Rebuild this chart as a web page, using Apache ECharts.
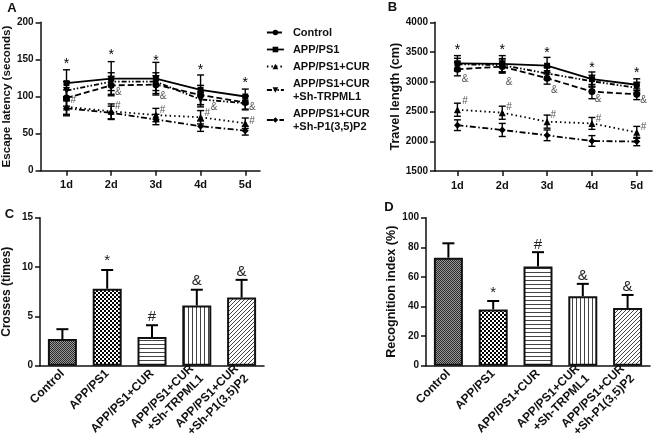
<!DOCTYPE html>
<html><head><meta charset="utf-8">
<script src="https://cdn.jsdelivr.net/npm/echarts@6/dist/echarts.min.js"></script>
<style>html,body{margin:0;padding:0;background:#fff}#c{width:661px;height:444px}</style>
</head><body><div id="c"></div>
<script>
// ---------- data ----------
const days = ['1d', '2d', '3d', '4d', '5d'];
const dayPos = [1, 2, 3, 4, 5];
const groupNames = ['Control', 'APP/PS1', 'APP/PS1+CUR', 'APP/PS1+CUR\n+Sh-TRPML1', 'APP/PS1+CUR\n+Sh-P1(3,5)P2'];

// Panel A: escape latency (seconds)
const latControl = [98, 115, 116, 102, 92];
const latAPP = [118, 124, 124, 109, 100];
const latCUR = [86, 80, 75, 72, 64];
const latTRPML1 = [108, 120, 120, 96, 91];
const latP1 = [84, 78, 69, 60, 54];
const latControlErr = [11, 12, 12, 13, 9];
const latAPPErr = [18, 23, 22, 20, 10];
const latCURErr = [10, 10, 9, 9, 7];
const latTRPML1Err = [12, 12, 12, 10, 9];
const latP1Err = [10, 9, 7, 7, 6];
const aStarY = [143, 156, 148, 136, 118];
const aHashX = [1.15, 2.15, 3.15, 4.15, 5.15];
const aHashY = [95, 87, 82, 78, 66];
const aAmpX = [2.16, 3.16, 4.3, 5.16];
const aAmpY = [106, 100, 86, 86];

// Panel B: travel length (cm)
const lenControl = [3210, 3255, 3060, 2835, 2790];
const lenAPP = [3310, 3300, 3270, 3045, 2950];
const lenCUR = [2530, 2480, 2330, 2300, 2150];
const lenTRPML1 = [3295, 3280, 3140, 3010, 2900];
const lenP1 = [2270, 2190, 2100, 2005, 1995];
const lenControlErr = [110, 110, 100, 120, 90];
const lenAPPErr = [130, 140, 140, 120, 100];
const lenCURErr = [110, 110, 110, 100, 100];
const lenTRPML1Err = [100, 110, 100, 100, 90];
const lenP1Err = [90, 110, 90, 90, 70];
const bStarY = [3534, 3534, 3478, 3226, 3152];
const bAmpX = [1.17, 2.15, 3.16, 4.14, 5.15];
const bAmpY = [3046, 3000, 2850, 2705, 2693];
const bHashX = [1.17, 2.15, 3.14, 4.15, 5.15];
const bHashY = [2676, 2580, 2441, 2369, 2228];

// Panel C: crosses (times)
const crosses = [2.7, 7.8, 2.9, 6.1, 6.9];
const crossesErr = [1.0, 1.9, 1.2, 1.6, 1.8];
const cMarkIdx = [1, 2, 3, 4];
const cMarkText = ['*', '#', '&', '&'];
const cMarkY = [10.6, 4.9, 8.6, 9.5];

// Panel D: recognition index (%)
const recog = [73, 38, 67, 47, 39];
const recogErr = [9.7, 5.7, 9.7, 8.3, 8.8];
const dMarkIdx = [1, 2, 3, 4];
const dMarkText = ['*', '#', '&', '&'];
const dMarkY = [49.5, 81.5, 60.5, 53.5];

// ---------- helpers ----------
const FF = '"Liberation Sans", Arial, Helvetica, sans-serif';
const INK = '#111';

function makePattern(size, draw) {
  const c = document.createElement('canvas');
  c.width = size; c.height = size;
  const g = c.getContext('2d');
  g.fillStyle = '#fff'; g.fillRect(0, 0, size, size);
  draw(g);
  return { image: c, repeat: 'repeat' };
}
const patterns = [
  makePattern(2, g => { g.fillStyle = '#999'; g.fillRect(0, 0, 2, 2); g.fillStyle = '#2a2a2a'; g.fillRect(0, 0, 1, 1); g.fillRect(1, 1, 1, 1); }),
  makePattern(4, g => { g.fillStyle = '#000'; g.fillRect(0, 0, 4, 4); g.fillStyle = '#fff'; g.fillRect(0, 0, 2, 2); g.fillRect(2, 2, 2, 2); }),
  makePattern(4, g => { g.fillStyle = '#444'; g.fillRect(0, 0, 4, 1); }),
  makePattern(4, g => { g.fillStyle = '#444'; g.fillRect(0, 0, 1, 4); }),
  makePattern(4, g => { g.fillStyle = '#444'; for (let i = 0; i < 4; i++) g.fillRect(i, 3 - i, 1, 1); })
];

function zip3(a, b, c) { return a.map((v, i) => [v, b[i], c[i]]); }
function zip2(a, b) { return a.map((v, i) => [v, b[i]]); }

function errRender(capHalf, lw, onlyUp) {
  return function (params, api) {
    const x = api.value(0), y = api.value(1), e = api.value(2);
    const top = api.coord([x, y + e]);
    const bot = onlyUp ? api.coord([x, y]) : api.coord([x, y - e]);
    const s = { stroke: '#000', lineWidth: lw };
    const ch = [
      { type: 'line', shape: { x1: top[0], y1: top[1], x2: bot[0], y2: bot[1] }, style: s },
      { type: 'line', shape: { x1: top[0] - capHalf, y1: top[1], x2: top[0] + capHalf, y2: top[1] }, style: s }
    ];
    if (!onlyUp) ch.push({ type: 'line', shape: { x1: bot[0] - capHalf, y1: bot[1], x2: bot[0] + capHalf, y2: bot[1] }, style: s });
    return { type: 'group', children: ch };
  };
}
function textRender(texts, size, color, weight) {
  return function (params, api) {
    const p = api.coord([api.value(0), api.value(1)]);
    const t = Array.isArray(texts) ? texts[params.dataIndex] : texts;
    return { type: 'text', x: p[0], y: p[1],
      style: { text: t, fontSize: size, fontFamily: FF, fontWeight: weight || 'normal', fill: color, align: 'center', verticalAlign: 'middle' } };
  };
}

const lineDefs = [
  { name: groupNames[0], symbol: 'circle', rot: 0, dash: [6, 3] },
  { name: groupNames[1], symbol: 'rect', rot: 0, dash: 'solid' },
  { name: groupNames[2], symbol: 'triangle', rot: 0, dash: [1.5, 3] },
  { name: groupNames[3], symbol: 'triangle', rot: 180, dash: [5, 2, 1.5, 2, 1.5, 2] },
  { name: groupNames[4], symbol: 'diamond', rot: 0, dash: [6, 2.5, 1.5, 2.5] }
];
const latSets = [[latControl, latControlErr], [latAPP, latAPPErr], [latCUR, latCURErr], [latTRPML1, latTRPML1Err], [latP1, latP1Err]];
const lenSets = [[lenControl, lenControlErr], [lenAPP, lenAPPErr], [lenCUR, lenCURErr], [lenTRPML1, lenTRPML1Err], [lenP1, lenP1Err]];

function yAxisBase(gi, min, max, interval, name, gap, nameSize) {
  return {
    type: 'value', gridIndex: gi, min, max, interval, name, nameLocation: 'middle', nameGap: gap,
    nameTextStyle: { fontFamily: FF, fontWeight: 'bold', fontSize: nameSize, color: INK },
    axisLine: { show: true, lineStyle: { color: INK, width: 1.5 } },
    axisTick: { show: true, length: 5, lineStyle: { color: INK, width: 1.5 } },
    axisLabel: { fontFamily: FF, fontWeight: 'bold', fontSize: 10, color: INK, margin: 7, formatter: v => String(v) },
    splitLine: { show: false }
  };
}
function xDayAxis(gi, min, max) {
  return {
    type: 'value', gridIndex: gi, min, max,
    axisLine: { show: true, lineStyle: { color: INK, width: 1.5 } },
    axisTick: { show: true, length: 5, customValues: dayPos, lineStyle: { color: INK, width: 1.5 } },
    axisLabel: { fontFamily: FF, fontWeight: 'bold', fontSize: 11, color: INK, margin: 9, customValues: dayPos,
      formatter: v => days[Math.round(v) - 1] || '' },
    splitLine: { show: false }
  };
}
function xCatAxis(gi) {
  return {
    type: 'category', gridIndex: gi, data: groupNames,
    axisLine: { show: true, lineStyle: { color: INK, width: 1.5 } },
    axisTick: { show: false },
    axisLabel: { fontFamily: FF, fontWeight: 'bold', fontSize: 12, color: INK, rotate: 45, interval: 0, margin: 6, lineHeight: 14 },
    splitLine: { show: false }
  };
}

const series = [];
[[latSets, 0], [lenSets, 1]].forEach(([sets, gi]) => {
  sets.forEach((s, k) => {
    const d = lineDefs[k];
    series.push({
      name: d.name, type: 'line', xAxisIndex: gi, yAxisIndex: gi, data: zip2(dayPos, s[0]),
      symbol: d.symbol, symbolSize: k === 1 ? 6 : 7, symbolRotate: d.rot, showSymbol: true,
      lineStyle: { color: '#000', width: 1.8, type: d.dash }, itemStyle: { color: '#000' },
      z: 3, animation: false
    });
    series.push({
      type: 'custom', name: 'err' + gi + k, xAxisIndex: gi, yAxisIndex: gi,
      data: zip3(dayPos, s[0], s[1]), renderItem: errRender(3.5, 1.4, false), z: 4, animation: false, silent: true
    });
  });
});
// annotations A
series.push({ type: 'custom', name: 'aStar', xAxisIndex: 0, yAxisIndex: 0, data: zip2(dayPos, aStarY), renderItem: textRender('*', 14, '#000'), clip: false, animation: false, silent: true });
series.push({ type: 'custom', name: 'aHash', xAxisIndex: 0, yAxisIndex: 0, data: zip2(aHashX, aHashY), renderItem: textRender('#', 10, '#555'), clip: false, animation: false, silent: true });
series.push({ type: 'custom', name: 'aAmp', xAxisIndex: 0, yAxisIndex: 0, data: zip2(aAmpX, aAmpY), renderItem: textRender('&', 10, '#555'), clip: false, animation: false, silent: true });
// annotations B
series.push({ type: 'custom', name: 'bStar', xAxisIndex: 1, yAxisIndex: 1, data: zip2(dayPos, bStarY), renderItem: textRender('*', 14, '#000'), clip: false, animation: false, silent: true });
series.push({ type: 'custom', name: 'bHash', xAxisIndex: 1, yAxisIndex: 1, data: zip2(bHashX, bHashY), renderItem: textRender('#', 10, '#555'), clip: false, animation: false, silent: true });
series.push({ type: 'custom', name: 'bAmp', xAxisIndex: 1, yAxisIndex: 1, data: zip2(bAmpX, bAmpY), renderItem: textRender('&', 10, '#555'), clip: false, animation: false, silent: true });

// bars C and D
[[crosses, crossesErr, 2, cMarkIdx, cMarkY, cMarkText], [recog, recogErr, 3, dMarkIdx, dMarkY, dMarkText]].forEach(([vals, errs, gi, mi, my, mt]) => {
  series.push({
    type: 'bar', name: 'bars' + gi, xAxisIndex: gi, yAxisIndex: gi, barWidth: 29,
    data: vals.map((v, i) => ({ value: v, itemStyle: { color: patterns[i] } })),
    itemStyle: { borderColor: '#111', borderWidth: 2 }, animation: false, silent: true
  });
  series.push({
    type: 'custom', name: 'barErr' + gi, xAxisIndex: gi, yAxisIndex: gi,
    data: vals.map((v, i) => [i, v, errs[i]]), renderItem: errRender(6, 2, true), z: 1, animation: false, silent: true
  });
  series.push({
    type: 'custom', name: 'barMark' + gi, xAxisIndex: gi, yAxisIndex: gi,
    data: zip2(mi, my), renderItem: textRender(mt, 15, '#222'), clip: false, animation: false, silent: true
  });
});

const option = {
  backgroundColor: '#fff',
  animation: false,
  textStyle: { fontFamily: FF },
  grid: [
    { left: 40, top: 22.3, width: 220, height: 148.4 },
    { left: 435, top: 22.3, width: 217, height: 148.7 },
    { left: 40, top: 217.7, width: 224, height: 148 },
    { left: 426, top: 217.7, width: 224, height: 148 }
  ],
  xAxis: [xDayAxis(0, 0.42, 5.33), xDayAxis(1, 0.5, 5.34), xCatAxis(2), xCatAxis(3)],
  yAxis: [
    yAxisBase(0, 0, 200, 50, 'Escape latency (seconds)', 22, 11.6),
    yAxisBase(1, 1500, 4000, 500, 'Travel length (cm)', 32, 12.6),
    yAxisBase(2, 0, 15, 5, 'Crosses (times)', 27, 12),
    yAxisBase(3, 0, 100, 20, 'Recognition index (%)', 26, 12.6)
  ],
  legend: {
    data: lineDefs.map(d => ({ name: d.name, lineStyle: { type: d.dash, width: 1.8, color: '#000' } })),
    orient: 'vertical', left: 266, top: 26, itemGap: 4, itemWidth: 17, itemHeight: 7,
    padding: 0, selectedMode: false,
    textStyle: { fontFamily: FF, fontSize: 11, fontWeight: 'bold', color: INK, lineHeight: 13, padding: [0, 0, 0, 4] }
  },
  graphic: [
    { type: 'text', x: 12, y: 8, style: { text: 'A', fontFamily: FF, fontWeight: 'bold', fontSize: 13, fill: INK, align: 'center', verticalAlign: 'middle' } },
    { type: 'text', x: 392.5, y: 7.5, style: { text: 'B', fontFamily: FF, fontWeight: 'bold', fontSize: 13, fill: INK, align: 'center', verticalAlign: 'middle' } },
    { type: 'text', x: 9.5, y: 214.5, style: { text: 'C', fontFamily: FF, fontWeight: 'bold', fontSize: 13, fill: INK, align: 'center', verticalAlign: 'middle' } },
    { type: 'text', x: 389, y: 207.5, style: { text: 'D', fontFamily: FF, fontWeight: 'bold', fontSize: 13, fill: INK, align: 'center', verticalAlign: 'middle' } }
  ],
  series
};
const chart = echarts.init(document.getElementById('c'), null, { renderer: 'canvas' });
chart.setOption(option);
</script></body></html>
